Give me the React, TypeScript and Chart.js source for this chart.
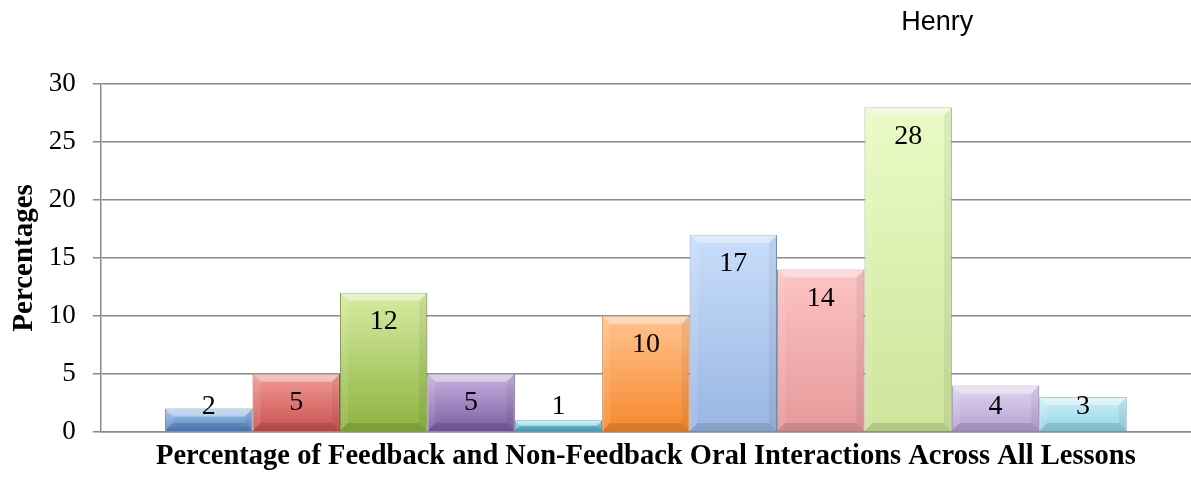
import React, { useEffect, useRef } from 'react';
import { Chart, registerables } from 'chart.js';

Chart.register(...registerables);

const chartTitle = 'Henry';
const categories = [''];
const seriesNames = [
  'Series 1', 'Series 2', 'Series 3', 'Series 4', 'Series 5', 'Series 6',
  'Series 7', 'Series 8', 'Series 9', 'Series 10', 'Series 11',
];
const values = [2, 5, 12, 5, 1, 10, 17, 14, 28, 4, 3];
const yTicks = [0, 5, 10, 15, 20, 25, 30];
const yAxisTitle = 'Percentages';
const xAxisTitle = 'Percentage of Feedback and Non-Feedback Oral Interactions Across All Lessons';

const topColors = [
  '#a8c6ee', '#f39a96', '#d8eca2', '#c8b4e2', '#a6e8f6', '#ffc38e',
  '#c9defb', '#fcc4c3', '#eafbc6', '#e2d6f2', '#cdf2fb',
];
const bottomColors = [
  '#4f82c2', '#c9534f', '#8db240', '#7b5ca0', '#45a9c5', '#f7892e',
  '#98b6e2', '#e6999a', '#cce49a', '#b39fd0', '#92d4e6',
];
const edgeColors = [
  '#3d6699', '#9a3e3b', '#6f8c33', '#5e4680', '#3a8aa0', '#c26a22',
  '#7f97bb', '#b97a7a', '#9fb57a', '#8e80a6', '#78aebb',
];

const bevelPlugin = {
  id: 'bevel',
  afterDatasetsDraw(chart: any) {
    const ctx = chart.ctx;
    ctx.save();
    chart.getSortedVisibleDatasetMetas().forEach((meta: any) => {
      meta.data.forEach((bar: any) => {
        const p = bar.getProps(['x', 'y', 'base', 'width'], true);
        const l = p.x - p.width / 2;
        const r = p.x + p.width / 2;
        const t = Math.min(p.y, p.base);
        const b = Math.max(p.y, p.base);
        const s = Math.min(8, (b - t) / 2);
        const poly = (pts: number[][], fill: string) => {
          ctx.beginPath();
          ctx.moveTo(pts[0][0], pts[0][1]);
          for (let i = 1; i < pts.length; i++) ctx.lineTo(pts[i][0], pts[i][1]);
          ctx.closePath();
          ctx.fillStyle = fill;
          ctx.fill();
        };
        poly([[l, t], [r, t], [r - s, t + s], [l + s, t + s]], 'rgba(255,255,255,0.4)');
        poly([[l, t], [l + s, t + s], [l + s, b - s], [l, b]], 'rgba(255,255,255,0.1)');
        poly([[r, t], [r - s, t + s], [r - s, b - s], [r, b]], 'rgba(0,0,0,0.06)');
        poly([[l, b], [l + s, b - s], [r - s, b - s], [r, b]], 'rgba(0,0,0,0.12)');
      });
    });
    ctx.restore();
  },
};

const labelPlugin = {
  id: 'valueLabels',
  afterDatasetsDraw(chart: any) {
    const ctx = chart.ctx;
    ctx.save();
    ctx.font = '28px "Liberation Serif"';
    ctx.fillStyle = '#000';
    ctx.textAlign = 'center';
    ctx.textBaseline = 'middle';
    chart.getSortedVisibleDatasetMetas().forEach((meta: any) => {
      meta.data.forEach((bar: any, i: number) => {
        const p = bar.getProps(['x', 'y', 'base'], true);
        const v = chart.data.datasets[meta.index].data[i];
        const ly = Math.min(p.y + 29, p.base - 24);
        ctx.fillText(String(v), p.x, ly);
      });
    });
    ctx.restore();
  },
};

const titlePlugin = {
  id: 'henryTitle',
  afterDraw(chart: any) {
    const ctx = chart.ctx;
    ctx.save();
    ctx.font = '27px "Liberation Sans"';
    ctx.fillStyle = '#000';
    ctx.textAlign = 'center';
    ctx.textBaseline = 'middle';
    ctx.fillText(chartTitle, chart.width * 0.787, 23);
    ctx.restore();
  },
};

export default function App() {
  const ref = useRef<HTMLCanvasElement | null>(null);

  useEffect(() => {
    if (!ref.current) return;
    const datasets = values.map((v, i) => ({
      label: seriesNames[i],
      data: [v],
      backgroundColor: (c: any) => {
        const chart = c.chart;
        if (!chart.chartArea || !chart.scales || !chart.scales.y) return bottomColors[i];
        const ys = chart.scales.y;
        const top = ys.getPixelForValue(v);
        const bot = ys.getPixelForValue(0);
        if (!isFinite(top) || !isFinite(bot) || top === bot) return bottomColors[i];
        const g = chart.ctx.createLinearGradient(0, top, 0, bot);
        g.addColorStop(0, topColors[i]);
        g.addColorStop(1, bottomColors[i]);
        return g;
      },
      borderColor: edgeColors[i],
      borderWidth: 1,
      barPercentage: 1,
      categoryPercentage: 0.882,
    }));

    const chart = new Chart(ref.current, {
      type: 'bar',
      data: { labels: categories, datasets },
      options: {
        animation: false,
        responsive: true,
        maintainAspectRatio: false,
        layout: { padding: { top: 84, left: 0, right: 0, bottom: 0 } },
        plugins: {
          legend: { display: false },
          tooltip: { enabled: false },
          title: { display: false },
        },
        scales: {
          x: {
            grid: { display: false, drawTicks: false },
            border: { display: true, color: '#8c8c8c', width: 1.5 },
            ticks: { display: false },
            title: {
              display: true,
              text: xAxisTitle,
              color: '#000',
              font: { family: '"Liberation Serif"', size: 28.5, weight: 'bold' },
              padding: { top: 8, bottom: 3 },
            },
          },
          y: {
            min: 0,
            max: 30,
            afterBuildTicks: (axis: any) => {
              axis.ticks = yTicks.map((t) => ({ value: t }));
            },
            grid: { color: '#8c8c8c', lineWidth: 1.5, tickLength: 8, drawTicks: true },
            border: { display: true, color: '#8c8c8c', width: 1.5 },
            ticks: {
              color: '#000',
              padding: 17,
              font: { family: '"Liberation Serif"', size: 27 },
            },
            title: {
              display: true,
              text: yAxisTitle,
              color: '#000',
              font: { family: '"Liberation Serif"', size: 29, weight: 'bold' },
              padding: { top: 7, bottom: -10 },
            },
          },
        },
      },
      plugins: [bevelPlugin, labelPlugin, titlePlugin],
    });
    return () => chart.destroy();
  }, []);

  return (
    <div style={{ position: 'fixed', left: 0, top: 0, width: 1191, height: 477, background: '#fff' }}>
      <canvas ref={ref} />
    </div>
  );
}
